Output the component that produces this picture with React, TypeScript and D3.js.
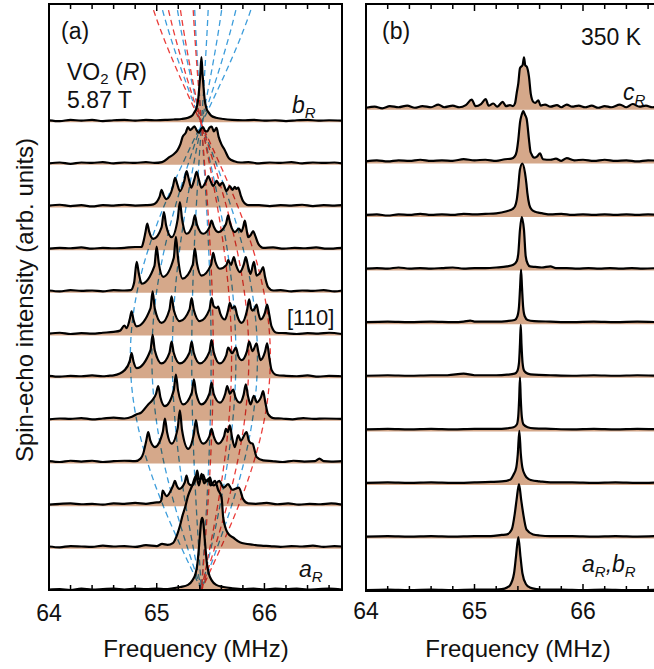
import React from "react";
import * as d3 from "d3";

type Pt = [number, number];

// ---------- Panel (a): VO2 (R), 5.87 T, rotation spectra (top b_R -> bottom a_R) ----------
const traceA1: Pt[] = [[64.0,0.01],[64.1,-0.01],[64.2,0.02],[64.3,0],[64.4,0.02],[64.5,-0.01],[64.6,0.01],[64.7,0.02],[64.8,0],[64.9,0.02],[65.0,0.01],[65.1,0.02],[65.17,0.03],[65.23,0.04],[65.29,0.07],[65.33,0.12],[65.35,0.2],[65.37,0.3],[65.385,0.5],[65.395,0.78],[65.405,1.1],[65.415,1.49],[65.425,1.1],[65.435,0.78],[65.445,0.5],[65.46,0.3],[65.48,0.2],[65.505,0.12],[65.55,0.07],[65.62,0.04],[65.7,0.02],[65.8,0.01],[65.9,0.02],[66.0,0],[66.1,0.01],[66.2,-0.01],[66.3,0.01],[66.4,0.02],[66.5,0],[66.6,0.01],[66.72,0]];
const traceA2: Pt[] = [[64.0,0],[64.1,0.02],[64.2,-0.01],[64.3,0.02],[64.4,0.01],[64.5,0.03],[64.6,0],[64.7,0.02],[64.8,0.01],[64.9,0.03],[64.98,0.01],[65.05,0.03],[65.12,0.15],[65.16,0.22],[65.19,0.3],[65.22,0.45],[65.24,0.62],[65.27,0.72],[65.29,0.85],[65.31,0.78],[65.33,0.82],[65.35,0.87],[65.37,0.78],[65.39,0.72],[65.41,0.8],[65.43,0.85],[65.45,0.76],[65.47,0.75],[65.49,0.84],[65.51,0.86],[65.53,0.75],[65.555,0.83],[65.575,0.62],[65.6,0.45],[65.63,0.32],[65.67,0.12],[65.72,0.05],[65.78,0.02],[65.85,0.03],[65.95,0],[66.05,0.02],[66.15,0.01],[66.25,0.03],[66.35,0],[66.45,0.02],[66.55,0.01],[66.65,0.02],[66.72,0]];
const traceA3: Pt[] = [[64.0,0.01],[64.1,0.03],[64.2,0],[64.3,0.02],[64.4,-0.01],[64.5,0.02],[64.6,0.01],[64.7,0.03],[64.8,0.01],[64.9,0.02],[64.97,0.04],[65.027,0.22],[65.045,0.38],[65.063,0.26],[65.09,0.16],[65.15,0.45],[65.17,0.66],[65.19,0.52],[65.215,0.35],[65.257,0.6],[65.277,0.82],[65.297,0.64],[65.32,0.43],[65.35,0.63],[65.37,0.8],[65.39,0.63],[65.415,0.43],[65.458,0.58],[65.478,0.7],[65.498,0.6],[65.524,0.47],[65.541,0.53],[65.556,0.59],[65.571,0.53],[65.585,0.48],[65.598,0.52],[65.611,0.55],[65.625,0.48],[65.648,0.35],[65.679,0.47],[65.705,0.38],[65.725,0.45],[65.74,0.4],[65.756,0.43],[65.78,0.25],[65.8,0.12],[65.85,0.02],[65.95,0.02],[66.05,0],[66.15,0.02],[66.25,0.01],[66.35,0.03],[66.45,0],[66.55,0.02],[66.65,0.01],[66.72,0.02]];
const traceA4: Pt[] = [[64.0,0],[64.1,0.02],[64.2,0.01],[64.3,0.03],[64.4,0],[64.5,0.02],[64.6,0.01],[64.7,0.02],[64.8,0.04],[64.86,0.04],[64.88,0.2],[64.895,0.38],[64.912,0.59],[64.93,0.4],[64.968,0.23],[65.045,0.5],[65.067,0.86],[65.087,0.55],[65.138,0.27],[65.195,0.7],[65.215,1.09],[65.235,0.7],[65.277,0.35],[65.334,0.56],[65.354,0.78],[65.374,0.56],[65.431,0.35],[65.489,0.5],[65.509,0.66],[65.529,0.52],[65.571,0.39],[65.643,0.58],[65.663,0.78],[65.683,0.58],[65.725,0.39],[65.763,0.47],[65.785,0.4],[65.802,0.5],[65.818,0.66],[65.834,0.45],[65.849,0.27],[65.875,0.33],[65.895,0.41],[65.915,0.3],[65.942,0.12],[65.99,0.02],[66.08,0.03],[66.18,0],[66.28,0.02],[66.38,0.01],[66.48,0.03],[66.58,0],[66.72,0.02]];
const traceA5: Pt[] = [[64.0,0.02],[64.1,0],[64.2,0.03],[64.3,0.01],[64.4,0.02],[64.5,0],[64.6,0.03],[64.7,0.02],[64.76,0.03],[64.79,0.2],[64.814,0.69],[64.834,0.42],[64.86,0.18],[64.979,0.6],[64.999,1.05],[65.019,0.66],[65.06,0.34],[65.158,0.78],[65.178,1.28],[65.198,0.78],[65.24,0.3],[65.334,0.62],[65.354,1.0],[65.374,0.65],[65.416,0.37],[65.504,0.62],[65.524,0.9],[65.544,0.7],[65.586,0.53],[65.648,0.62],[65.663,0.73],[65.69,0.62],[65.716,0.8],[65.736,0.62],[65.772,0.45],[65.807,0.62],[65.827,0.8],[65.847,0.6],[65.871,0.41],[65.902,0.69],[65.927,0.37],[65.968,0.47],[65.988,0.57],[66.005,0.35],[66.034,0.1],[66.081,0.02],[66.15,0.03],[66.25,0],[66.35,0.02],[66.45,0.01],[66.55,0.03],[66.65,0],[66.72,0.02]];
const traceA6: Pt[] = [[64.0,0.01],[64.1,0.03],[64.2,0],[64.3,0.02],[64.4,0.01],[64.5,0.03],[64.6,0.05],[64.66,0.08],[64.7,0.2],[64.72,0.14],[64.75,0.35],[64.767,0.53],[64.785,0.33],[64.814,0.18],[64.942,0.6],[64.962,1.0],[64.982,0.6],[65.045,0.26],[65.118,0.57],[65.138,0.88],[65.158,0.57],[65.215,0.3],[65.304,0.57],[65.324,0.84],[65.344,0.57],[65.401,0.3],[65.489,0.57],[65.509,0.84],[65.529,0.65],[65.556,0.61],[65.57,0.64],[65.59,0.48],[65.633,0.34],[65.662,0.55],[65.679,0.73],[65.7,0.6],[65.725,0.65],[65.745,0.45],[65.788,0.26],[65.838,0.55],[65.858,0.81],[65.876,0.6],[65.89,0.55],[65.91,0.6],[65.927,0.69],[65.945,0.48],[65.964,0.34],[66.005,0.5],[66.025,0.69],[66.045,0.45],[66.066,0.18],[66.112,0.03],[66.2,0.02],[66.3,0],[66.4,0.02],[66.5,0.01],[66.6,0.03],[66.72,0]];
const traceA7: Pt[] = [[64.0,0.02],[64.1,0],[64.2,0.02],[64.3,0.01],[64.4,0.03],[64.5,0.01],[64.55,0.02],[64.6,0.03],[64.705,0.16],[64.75,0.37],[64.767,0.55],[64.785,0.35],[64.814,0.2],[64.942,0.62],[64.962,0.98],[64.982,0.62],[65.045,0.31],[65.118,0.56],[65.138,0.82],[65.158,0.56],[65.215,0.31],[65.304,0.56],[65.324,0.82],[65.344,0.56],[65.401,0.31],[65.489,0.58],[65.509,0.86],[65.529,0.58],[65.586,0.31],[65.645,0.5],[65.663,0.68],[65.7,0.55],[65.735,0.68],[65.755,0.5],[65.788,0.39],[65.838,0.6],[65.858,0.82],[65.89,0.6],[65.927,0.78],[65.945,0.56],[65.964,0.39],[66.005,0.58],[66.025,0.78],[66.045,0.45],[66.066,0.16],[66.112,0.04],[66.2,0.02],[66.3,0.01],[66.4,0.03],[66.5,0],[66.6,0.02],[66.72,0.01]];
const traceA8: Pt[] = [[64.0,0],[64.1,0.02],[64.2,0.01],[64.3,0.03],[64.4,0],[64.5,0.02],[64.6,0.04],[64.7,0.02],[64.77,0.06],[64.814,0.12],[64.85,0.15],[64.921,0.35],[64.96,0.45],[64.994,0.6],[65.014,0.78],[65.034,0.52],[65.076,0.31],[65.158,0.68],[65.178,1.05],[65.198,0.68],[65.246,0.35],[65.325,0.62],[65.345,0.94],[65.365,0.62],[65.416,0.35],[65.489,0.6],[65.509,0.86],[65.529,0.6],[65.586,0.39],[65.636,0.6],[65.654,0.78],[65.68,0.6],[65.71,0.7],[65.73,0.52],[65.772,0.39],[65.807,0.58],[65.827,0.82],[65.847,0.55],[65.871,0.35],[65.902,0.55],[65.93,0.4],[65.968,0.52],[65.988,0.66],[66.008,0.4],[66.034,0.12],[66.081,0.03],[66.16,0.02],[66.26,0],[66.36,0.03],[66.46,0.01],[66.56,0.02],[66.72,0.01]];
const traceA9: Pt[] = [[64.0,0.02],[64.1,0],[64.2,0.03],[64.3,0.01],[64.4,0.03],[64.5,0],[64.6,0.02],[64.7,0.03],[64.8,0.02],[64.85,0.08],[64.875,0.2],[64.903,0.5],[64.921,0.7],[64.941,0.5],[64.983,0.35],[65.056,0.7],[65.076,1.02],[65.096,0.7],[65.138,0.43],[65.195,0.8],[65.215,1.21],[65.235,0.75],[65.292,0.31],[65.344,0.65],[65.364,0.98],[65.384,0.68],[65.431,0.43],[65.489,0.6],[65.509,0.78],[65.529,0.6],[65.571,0.43],[65.625,0.6],[65.642,0.78],[65.66,0.7],[65.679,0.86],[65.699,0.58],[65.725,0.35],[65.756,0.63],[65.78,0.5],[65.834,0.7],[65.855,0.5],[65.87,0.45],[65.89,0.43],[65.927,0.12],[65.988,0.04],[66.07,0.02],[66.17,0],[66.27,0.03],[66.37,0.01],[66.47,0.02],[66.51,0.08],[66.55,0.02],[66.62,0.01],[66.72,0.02]];
const traceA10: Pt[] = [[64.0,0],[64.1,0.02],[64.2,0.03],[64.3,0.01],[64.4,0.02],[64.5,0],[64.6,0.03],[64.7,0.02],[64.8,0.04],[64.9,0.02],[64.98,0.05],[65.03,0.06],[65.045,0.13],[65.055,0.33],[65.09,0.2],[65.152,0.45],[65.169,0.56],[65.185,0.45],[65.209,0.37],[65.26,0.52],[65.277,0.68],[65.295,0.5],[65.324,0.45],[65.36,0.6],[65.376,0.8],[65.392,0.6],[65.41,0.6],[65.431,0.7],[65.45,0.58],[65.47,0.55],[65.494,0.64],[65.51,0.5],[65.53,0.45],[65.58,0.56],[65.62,0.4],[65.663,0.48],[65.7,0.35],[65.763,0.4],[65.802,0.13],[65.849,0.03],[65.92,0.02],[66.02,0.04],[66.12,0.01],[66.22,0.03],[66.32,0],[66.42,0.02],[66.52,0.01],[66.62,0.03],[66.72,0]];
const traceA11: Pt[] = [[64.0,0.02],[64.1,0],[64.2,0.03],[64.3,0.02],[64.4,0.01],[64.5,0.04],[64.6,0.02],[64.7,0.03],[64.8,0.01],[64.9,0.05],[65.0,0.03],[65.05,0.08],[65.1,0.06],[65.15,0.1],[65.19,0.3],[65.215,0.5],[65.24,0.75],[65.265,0.95],[65.29,1.2],[65.33,1.45],[65.365,1.68],[65.392,1.45],[65.416,1.72],[65.44,1.5],[65.478,1.6],[65.5,1.45],[65.54,1.56],[65.57,1.35],[65.602,1.17],[65.617,0.7],[65.648,0.39],[65.67,0.3],[65.71,0.23],[65.772,0.12],[65.895,0.06],[65.97,0.04],[66.05,0.03],[66.15,0.01],[66.25,0.03],[66.35,0.02],[66.45,0.04],[66.55,0.01],[66.65,0.03],[66.72,0.02]];
const traceA12: Pt[] = [[64.0,0.01],[64.1,0.02],[64.2,0],[64.3,0.03],[64.4,0.01],[64.5,0.02],[64.6,0.03],[64.7,0.01],[64.8,0.03],[64.9,0.02],[65.0,0.03],[65.08,0.02],[65.15,0.04],[65.22,0.07],[65.29,0.12],[65.33,0.22],[65.362,0.4],[65.377,0.6],[65.392,1.0],[65.402,1.3],[65.412,1.6],[65.422,1.69],[65.432,1.6],[65.442,1.3],[65.452,1.0],[65.467,0.6],[65.482,0.4],[65.512,0.22],[65.552,0.12],[65.62,0.07],[65.7,0.04],[65.8,0.02],[65.9,0.03],[66.0,0.01],[66.1,0.03],[66.2,0.02],[66.3,0.03],[66.4,0.01],[66.5,0.02],[66.6,0.03],[66.72,0.01]];
const tracesA: Pt[][] = [traceA1, traceA2, traceA3, traceA4, traceA5, traceA6, traceA7, traceA8, traceA9, traceA10, traceA11, traceA12];

// guide lines: common centre (MHz) and splitting at maximum (MHz)
const guideCenter = 65.415;
const redSplit = [0.11, 0.28, 0.44, 0.64];
const blueSplit = [-0.66, -0.46, -0.27, -0.09, 0.09, 0.32, 0.52];
const guideAngles = d3.range(-22, 90.5, 1);

// ---------- Panel (b): 350 K, top c_R -> bottom a_R,b_R ----------
const traceB1: Pt[] = [[64.0,0.01],[64.08,0.03],[64.15,0],[64.22,0.04],[64.3,0.02],[64.38,0.05],[64.45,0.01],[64.52,0.04],[64.6,0.02],[64.667,0.07],[64.72,0.02],[64.8,0.05],[64.86,0.02],[64.92,0.06],[64.974,0.16],[65.01,0.04],[65.06,0.08],[65.103,0.17],[65.13,0.05],[65.173,0.09],[65.21,0.03],[65.26,0.12],[65.29,0.04],[65.327,0.06],[65.355,0.04],[65.373,0.09],[65.39,0.3],[65.404,0.47],[65.419,0.75],[65.444,0.81],[65.456,0.95],[65.468,0.8],[65.481,0.78],[65.502,0.59],[65.518,0.28],[65.542,0.12],[65.56,0.1],[65.588,0.15],[65.61,0.05],[65.65,0.07],[65.7,0.03],[65.76,0.06],[65.8,0.02],[65.85,0.07],[65.9,0.03],[65.96,0.05],[66.02,0.02],[66.08,0.05],[66.14,0.01],[66.2,0.04],[66.26,0.02],[66.34,0.07],[66.4,0.02],[66.458,0.08],[66.52,0.03],[66.58,0.05],[66.64,0.02],[66.7,0.04]];
const traceB2: Pt[] = [[64.0,0.01],[64.1,0.03],[64.2,0.01],[64.3,0.03],[64.4,0.02],[64.5,0.04],[64.6,0.02],[64.7,0.03],[64.8,0.02],[64.9,0.05],[65.0,0.03],[65.1,0.04],[65.2,0.02],[65.28,0.05],[65.34,0.06],[65.37,0.1],[65.389,0.2],[65.404,0.42],[65.419,0.73],[65.435,0.88],[65.45,0.95],[65.465,0.88],[65.481,0.8],[65.502,0.42],[65.515,0.2],[65.527,0.14],[65.55,0.08],[65.575,0.1],[65.604,0.16],[65.63,0.05],[65.7,0.04],[65.75,0.06],[65.8,0.02],[65.85,0.07],[65.92,0.03],[66.0,0.04],[66.1,0.02],[66.2,0.04],[66.3,0.02],[66.4,0.03],[66.5,0.01],[66.6,0.03],[66.7,0.02]];
const traceB3: Pt[] = [[64.0,0.01],[64.1,0.02],[64.2,0],[64.3,0.02],[64.4,0.01],[64.5,0.03],[64.6,0.01],[64.7,0.02],[64.8,0.01],[64.9,0.03],[65.0,0.02],[65.1,0.03],[65.2,0.04],[65.297,0.08],[65.35,0.12],[65.373,0.17],[65.39,0.3],[65.404,0.55],[65.419,0.86],[65.441,0.97],[65.465,0.8],[65.478,0.6],[65.487,0.42],[65.505,0.2],[65.527,0.11],[65.56,0.07],[65.604,0.05],[65.65,0.03],[65.7,0.02],[65.8,0.03],[65.9,0.01],[66.0,0.02],[66.1,0.01],[66.2,0.02],[66.3,0.01],[66.4,0.02],[66.5,0.01],[66.6,0.02],[66.7,0.01]];
const traceB4: Pt[] = [[64.0,0.01],[64.1,0.02],[64.2,0.01],[64.3,0.03],[64.4,0.01],[64.5,0.02],[64.6,0.01],[64.7,0.02],[64.8,0.03],[64.9,0.01],[65.0,0.02],[65.1,0.02],[65.2,0.03],[65.3,0.05],[65.358,0.08],[65.39,0.15],[65.404,0.3],[65.419,0.73],[65.435,0.97],[65.456,0.73],[65.472,0.24],[65.49,0.1],[65.512,0.05],[65.56,0.04],[65.62,0.03],[65.7,0.05],[65.75,0.02],[65.85,0.02],[65.95,0.01],[66.05,0.02],[66.15,0.01],[66.25,0.02],[66.35,0.01],[66.45,0.02],[66.55,0.01],[66.7,0.02]];
const traceB5: Pt[] = [[64.0,0.01],[64.2,0.02],[64.4,0.01],[64.6,0.02],[64.8,0.01],[64.9,0.02],[64.96,0.04],[65.0,0.02],[65.2,0.02],[65.3,0.03],[65.37,0.05],[65.395,0.12],[65.41,0.3],[65.42,0.65],[65.429,0.99],[65.438,0.65],[65.448,0.3],[65.463,0.12],[65.49,0.05],[65.55,0.03],[65.7,0.02],[65.9,0.01],[66.1,0.02],[66.3,0.01],[66.5,0.02],[66.7,0.01]];
const traceB6: Pt[] = [[64.0,0.01],[64.2,0.02],[64.4,0.01],[64.6,0.02],[64.75,0.02],[64.9,0.05],[65.0,0.02],[65.2,0.02],[65.3,0.03],[65.37,0.05],[65.395,0.1],[65.41,0.25],[65.419,0.6],[65.426,0.96],[65.433,0.6],[65.443,0.25],[65.458,0.1],[65.49,0.05],[65.55,0.03],[65.7,0.02],[65.9,0.01],[66.1,0.02],[66.3,0.01],[66.5,0.02],[66.7,0.01]];
const traceB7: Pt[] = [[64.0,0.01],[64.2,0.02],[64.4,0.01],[64.6,0.02],[64.8,0.01],[65.0,0.02],[65.2,0.02],[65.3,0.03],[65.36,0.05],[65.39,0.1],[65.403,0.25],[65.412,0.6],[65.419,0.98],[65.426,0.6],[65.436,0.25],[65.452,0.1],[65.49,0.05],[65.55,0.03],[65.7,0.02],[65.9,0.01],[66.1,0.02],[66.3,0.01],[66.5,0.02],[66.7,0.01]];
const traceB8: Pt[] = [[64.0,0.01],[64.2,0.02],[64.4,0.01],[64.6,0.02],[64.8,0.01],[65.0,0.02],[65.15,0.03],[65.25,0.04],[65.327,0.07],[65.358,0.16],[65.385,0.3],[65.399,0.55],[65.413,0.98],[65.427,0.55],[65.441,0.3],[65.465,0.16],[65.5,0.08],[65.527,0.06],[65.6,0.04],[65.7,0.02],[65.9,0.02],[66.1,0.01],[66.3,0.02],[66.5,0.01],[66.7,0.02]];
const traceB9: Pt[] = [[64.0,0.01],[64.2,0.02],[64.4,0.01],[64.6,0.02],[64.8,0.01],[65.0,0.02],[65.15,0.02],[65.25,0.04],[65.3,0.05],[65.343,0.14],[65.372,0.45],[65.388,0.7],[65.41,0.99],[65.43,0.7],[65.448,0.45],[65.48,0.14],[65.54,0.05],[65.6,0.03],[65.7,0.02],[65.9,0.02],[66.1,0.01],[66.3,0.02],[66.5,0.01],[66.7,0.02]];
const traceB10: Pt[] = [[64.0,0.01],[64.2,0.02],[64.4,0.01],[64.6,0.02],[64.8,0.01],[65.0,0.02],[65.15,0.02],[65.25,0.03],[65.3,0.06],[65.327,0.1],[65.364,0.32],[65.382,0.63],[65.404,1.0],[65.424,0.63],[65.442,0.32],[65.475,0.12],[65.51,0.06],[65.573,0.03],[65.65,0.02],[65.8,0.02],[66.0,0.01],[66.2,0.02],[66.4,0.01],[66.7,0.02]];
const tracesB: Pt[][] = [traceB1, traceB2, traceB3, traceB4, traceB5, traceB6, traceB7, traceB8, traceB9, traceB10];

const tickValues = [64, 64.2, 64.4, 64.6, 64.8, 65, 65.2, 65.4, 65.6, 65.8, 66, 66.2, 66.4, 66.6];
const tickLabels = [64, 65, 66];

const FILL = "#d5a88a";
const RED = "#ea3d3a";
const BLUE = "#3d9ddb";
const FONT = "'Liberation Sans', Arial, Helvetica, sans-serif";

// layout
const A = { left: 49, right: 342, top: 4, bottom: 590 };
const B = { left: 366, right: 659, top: 4, bottom: 591 };

const xA = d3.scaleLinear().domain([64, 66.72]).range([A.left, A.right]);
const yA = d3.scaleLinear().domain([0, 11]).range([590, 120.7]);
const xB = d3.scaleLinear().domain([64, 66.7]).range([B.left, B.left + 2.7 * 108.5]);
const yB = d3.scaleLinear().domain([0, 9]).range([590.7, 108.3]);
const angleY = d3.scaleLinear().domain([0, 90]).range([124, 590]);

function Ticks({ x, box }: { x: d3.ScaleLinear<number, number>; box: typeof A }) {
  return (
    <g stroke="#000" strokeWidth={1.5}>
      {tickValues.map((v, i) => {
        const major = Math.abs(v - Math.round(v)) < 1e-6;
        const len = major ? 7 : 5;
        const px = x(v);
        if (px < box.left + 1 || px > box.right - 1) return null;
        return (
          <g key={i}>
            <line x1={px} x2={px} y1={box.bottom} y2={box.bottom - len} />
            <line x1={px} x2={px} y1={box.top} y2={box.top + len} />
          </g>
        );
      })}
    </g>
  );
}

export default function App() {
  const nA = tracesA.length;
  const lineA = (off: number) =>
    d3.line<Pt>().x((d) => xA(d[0])).y((d) => yA(off + d[1])).curve(d3.curveMonotoneX);
  const areaA = (off: number) =>
    d3.area<Pt>().x((d) => xA(d[0])).y0(yA(off) + 1.5).y1((d) => yA(off + d[1])).curve(d3.curveMonotoneX);
  const nB = tracesB.length;
  const lineB = (off: number) =>
    d3.line<Pt>().x((d) => xB(d[0])).y((d) => yB(off + d[1])).curve(d3.curveMonotoneX);
  const areaB = (off: number) =>
    d3.area<Pt>().x((d) => xB(d[0])).y0(yB(off) + 1.5).y1((d) => yB(off + d[1])).curve(d3.curveMonotoneX);

  const guide = (amp: number) =>
    d3
      .line<number>()
      .x((t) => xA(guideCenter + amp * Math.sin((2 * t * Math.PI) / 180)))
      .y((t) => angleY(t))(guideAngles) || "";

  const txt = { fontFamily: FONT, fill: "#111" } as const;

  return (
    <svg
      width={654}
      height={669}
      style={{ position: "absolute", left: 0, top: 0, background: "#fff" }}
    >
      <defs>
        <clipPath id="clipA">
          <rect x={A.left} y={A.top} width={A.right - A.left} height={A.bottom - A.top} />
        </clipPath>
        <clipPath id="clipB">
          <rect x={B.left} y={B.top} width={B.right - B.left} height={B.bottom - B.top} />
        </clipPath>
      </defs>

      {/* Panel (a) */}
      <g clipPath="url(#clipA)">
        {tracesA.map((tr, k) => (
          <path key={"fa" + k} d={areaA(nA - 1 - k)(tr) || ""} fill={FILL} />
        ))}
        <g fill="none" strokeWidth={1.3} strokeDasharray="6,4" style={{ mixBlendMode: "multiply" }}>
          {blueSplit.map((a, i) => (
            <path key={"bl" + i} d={guide(a)} stroke={BLUE} />
          ))}
          {redSplit.map((a, i) => (
            <path key={"rl" + i} d={guide(a)} stroke={RED} />
          ))}
        </g>
        {tracesA.map((tr, k) => (
          <path key={"la" + k} d={lineA(nA - 1 - k)(tr) || ""} fill="none" stroke="#000" strokeWidth={2.2} strokeLinejoin="round" />
        ))}
      </g>
      <rect x={A.left} y={A.top} width={A.right - A.left} height={A.bottom - A.top} fill="none" stroke="#000" strokeWidth={2} />
      <Ticks x={xA} box={A} />

      {/* Panel (b) */}
      <g clipPath="url(#clipB)">
        {tracesB.map((tr, k) => (
          <path key={"fb" + k} d={areaB(nB - 1 - k)(tr) || ""} fill={FILL} />
        ))}
        {tracesB.map((tr, k) => (
          <path key={"lb" + k} d={lineB(nB - 1 - k)(tr) || ""} fill="none" stroke="#000" strokeWidth={2.2} strokeLinejoin="round" />
        ))}
      </g>
      <rect x={B.left} y={B.top} width={B.right - B.left} height={B.bottom - B.top} fill="none" stroke="#000" strokeWidth={2} />
      <Ticks x={xB} box={B} />

      {/* tick labels */}
      <g {...txt} fontSize={23} textAnchor="middle">
        {tickLabels.map((v) => (
          <text key={"ta" + v} x={xA(v)} y={621}>{v}</text>
        ))}
        {tickLabels.map((v) => (
          <text key={"tb" + v} x={xB(v)} y={619}>{v}</text>
        ))}
      </g>

      {/* axis titles */}
      <g {...txt} fontSize={24} textAnchor="middle">
        <text x={196} y={657}>Frequency (MHz)</text>
        <text x={518} y={657}>Frequency (MHz)</text>
        <text transform="translate(33,300) rotate(-90)">Spin-echo intensity (arb. units)</text>
      </g>

      {/* annotations panel (a) */}
      <g {...txt} fontSize={23}>
        <text x={61} y={39}>(a)</text>
        <text x={67} y={80}>
          VO<tspan fontSize={15} dy={4}>2</tspan>
          <tspan dy={-4}> (</tspan>
          <tspan fontStyle="italic">R</tspan>)
        </text>
        <text x={67} y={108}>5.87 T</text>
        <text x={292} y={113} fontStyle="italic">
          b<tspan fontSize={15} dy={5}>R</tspan>
        </text>
        <text x={287} y={325} fontSize={22}>[110]</text>
        <text x={299} y={577} fontStyle="italic">
          a<tspan fontSize={15} dy={5}>R</tspan>
        </text>
      </g>

      {/* annotations panel (b) */}
      <g {...txt} fontSize={23}>
        <text x={382} y={39}>(b)</text>
        <text x={641} y={45} textAnchor="end">350 K</text>
        <text x={623} y={100} fontStyle="italic">
          c<tspan fontSize={15} dy={5}>R</tspan>
        </text>
        <text x={582} y={572} fontStyle="italic">
          a<tspan fontSize={15} dy={5}>R</tspan>
          <tspan dy={-5}>,</tspan>b<tspan fontSize={15} dy={5}>R</tspan>
        </text>
      </g>
    </svg>
  );
}
